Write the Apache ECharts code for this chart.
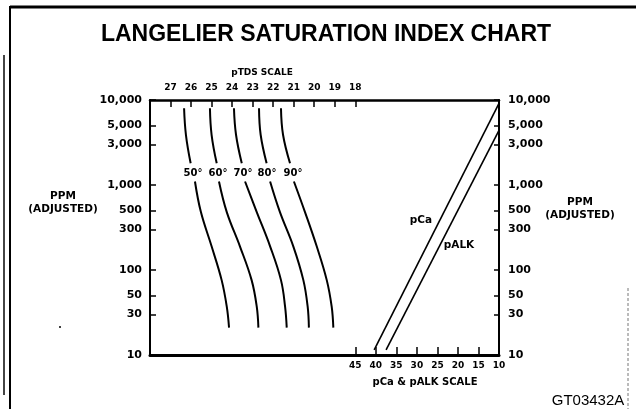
<!DOCTYPE html>
<html>
<head>
<meta charset="utf-8">
<title>Langelier Saturation Index Chart</title>
<script src="https://cdn.jsdelivr.net/npm/echarts@6/dist/echarts.min.js"></script>
<style>
  html, body { margin: 0; padding: 0; background: #fff; }
  #chart { width: 636px; height: 409px; }
</style>
</head>
<body>
<div id="chart"></div>
<script>
// Tick values for the three scales
const pTdsTicks = [18, 19, 20, 21, 22, 23, 24, 25, 26, 27];
const pScaleTicks = [10, 15, 20, 25, 30, 35, 40, 45];
const ppmTicks = [10, 30, 50, 100, 300, 500, 1000, 3000, 5000, 10000];

// Temperature curves: ppm levels and pTDS positions (upper and lower pieces)
const tempLabels = ['50°', '60°', '70°', '80°', '90°'];
const ppmUpper = [8000, 3900, 1800];
const ppmLower = [1100, 480, 190, 76, 37, 21];
const tds50Upper = [26.34, 26.25, 26.02];
const tds50Lower = [25.81, 25.52, 25.00, 24.51, 24.26, 24.15];
const tds60Upper = [25.08, 25.00, 24.75];
const tds60Lower = [24.64, 24.26, 23.62, 23.05, 22.80, 22.72];
const tds70Upper = [23.91, 23.81, 23.53];
const tds70Lower = [23.37, 22.80, 22.15, 21.62, 21.42, 21.34];
const tds80Upper = [22.69, 22.61, 22.32];
const tds80Lower = [22.15, 21.67, 21.02, 20.53, 20.32, 20.26];
const tds90Upper = [21.62, 21.52, 21.18];
const tds90Lower = [20.99, 20.45, 19.88, 19.39, 19.15, 19.07];

// pCa and pALK straight lines: [scale value, ppm]
const pCaLine = [[40.4, 11.5], [10, 9100]];
const pAlkLine = [[37.5, 11.5], [10, 4400]];

const upperSets = [tds50Upper, tds60Upper, tds70Upper, tds80Upper, tds90Upper];
const lowerSets = [tds50Lower, tds60Lower, tds70Lower, tds80Lower, tds90Lower];

const LBL = 'DejaVu Sans';
const fmtPpm = v => Number(v).toLocaleString('en-US');

const series = [];
upperSets.forEach((xs, i) => {
  series.push({
    name: tempLabels[i] + ' upper', type: 'line', xAxisIndex: 1, yAxisIndex: 0,
    data: xs.map((x, k) => [x, ppmUpper[k]]), smooth: 0.4, symbol: 'none',
    lineStyle: { color: '#000', width: 2 }, silent: true
  });
  series.push({
    name: tempLabels[i] + ' lower', type: 'line', xAxisIndex: 1, yAxisIndex: 0,
    data: lowerSets[i].map((x, k) => [x, ppmLower[k]]), smooth: 0.4, symbol: 'none',
    lineStyle: { color: '#000', width: 2 }, silent: true
  });
});
series.push({
  name: 'pCa', type: 'line', xAxisIndex: 0, yAxisIndex: 0, data: pCaLine,
  symbol: 'none', lineStyle: { color: '#000', width: 1.6 }, silent: true
});
series.push({
  name: 'pALK', type: 'line', xAxisIndex: 0, yAxisIndex: 0, data: pAlkLine,
  symbol: 'none', lineStyle: { color: '#000', width: 1.6 }, silent: true
});

const axisLine = { show: true, lineStyle: { color: '#000', width: 2 } };

const option = {
  animation: false,
  backgroundColor: '#fff',
  grid: { left: 150, right: 137, top: 100, bottom: 54, containLabel: false },
  xAxis: [
    {
      type: 'value', position: 'bottom', min: 10, max: 95, inverse: true,
      axisLine: { show: true, lineStyle: { color: '#000', width: 3 } },
      axisTick: { show: true, inside: true, length: 8, customValues: pScaleTicks,
                  lineStyle: { color: '#000', width: 1.5 } },
      axisLabel: { customValues: pScaleTicks, margin: 6, color: '#000',
                   fontFamily: LBL, fontWeight: 'bold', fontSize: 9 },
      splitLine: { show: false }
    },
    {
      type: 'value', position: 'top', min: 11, max: 28, inverse: true,
      axisLine: { show: true, lineStyle: { color: '#000', width: 2.5 } },
      axisTick: { show: true, inside: true, length: 7, customValues: pTdsTicks,
                  lineStyle: { color: '#000', width: 1.5 } },
      axisLabel: { customValues: pTdsTicks, margin: 8, color: '#000',
                   fontFamily: LBL, fontWeight: 'bold', fontSize: 9 },
      splitLine: { show: false }
    }
  ],
  yAxis: [
    {
      type: 'log', logBase: 10, min: 10, max: 10000, position: 'left',
      axisLine: axisLine,
      axisTick: { show: true, inside: true, length: 6, customValues: ppmTicks,
                  lineStyle: { color: '#000', width: 1.5 } },
      axisLabel: { customValues: ppmTicks, margin: 8, color: '#000', formatter: fmtPpm,
                   fontFamily: LBL, fontWeight: 'bold', fontSize: 11 },
      splitLine: { show: false }, minorTick: { show: false }
    },
    {
      type: 'log', logBase: 10, min: 10, max: 10000, position: 'right',
      axisLine: axisLine,
      axisTick: { show: true, inside: true, length: 5, customValues: ppmTicks,
                  lineStyle: { color: '#000', width: 1.5 } },
      axisLabel: { customValues: ppmTicks, margin: 9, color: '#000', formatter: fmtPpm,
                   fontFamily: LBL, fontWeight: 'bold', fontSize: 11 },
      splitLine: { show: false }, minorTick: { show: false }
    }
  ],
  series: series,
  graphic: [
    // outer frame
    { type: 'line', shape: { x1: 10, y1: 7, x2: 636, y2: 7 }, style: { stroke: '#000', lineWidth: 3 } },
    { type: 'line', shape: { x1: 10, y1: 6, x2: 10, y2: 409 }, style: { stroke: '#000', lineWidth: 2 } },
    { type: 'line', shape: { x1: 4, y1: 55, x2: 4, y2: 395 }, style: { stroke: '#444', lineWidth: 2 } },
    { type: 'line', shape: { x1: 628, y1: 288, x2: 628, y2: 409 }, style: { stroke: '#777', lineWidth: 1, lineDash: [3, 2] } },
    { type: 'circle', shape: { cx: 60, cy: 327, r: 1 }, style: { fill: '#000' } },
    // titles and scale names
    { type: 'text', x: 326, y: 35, style: { text: 'LANGELIER SATURATION INDEX CHART', fill: '#000',
      font: 'bold 23px "Liberation Sans", Arial, sans-serif', textAlign: 'center', textVerticalAlign: 'middle' } },
    { type: 'text', x: 262, y: 73, style: { text: 'pTDS SCALE', fill: '#000',
      font: 'bold 9px "DejaVu Sans"', textAlign: 'center', textVerticalAlign: 'middle' } },
    { type: 'text', x: 425, y: 382, style: { text: 'pCa & pALK SCALE', fill: '#000',
      font: 'bold 10px "DejaVu Sans"', textAlign: 'center', textVerticalAlign: 'middle' } },
    { type: 'text', x: 63, y: 203, style: { text: 'PPM\n(ADJUSTED)', fill: '#000', lineHeight: 13,
      font: 'bold 10.5px "DejaVu Sans"', textAlign: 'center', textVerticalAlign: 'middle' } },
    { type: 'text', x: 580, y: 209, style: { text: 'PPM\n(ADJUSTED)', fill: '#000', lineHeight: 13,
      font: 'bold 10.5px "DejaVu Sans"', textAlign: 'center', textVerticalAlign: 'middle' } },
    // curve labels
    { type: 'text', x: 193, y: 173, style: { text: tempLabels[0], fill: '#000', font: 'bold 10px "DejaVu Sans"', textAlign: 'center', textVerticalAlign: 'middle' } },
    { type: 'text', x: 218, y: 173, style: { text: tempLabels[1], fill: '#000', font: 'bold 10px "DejaVu Sans"', textAlign: 'center', textVerticalAlign: 'middle' } },
    { type: 'text', x: 243, y: 173, style: { text: tempLabels[2], fill: '#000', font: 'bold 10px "DejaVu Sans"', textAlign: 'center', textVerticalAlign: 'middle' } },
    { type: 'text', x: 267, y: 173, style: { text: tempLabels[3], fill: '#000', font: 'bold 10px "DejaVu Sans"', textAlign: 'center', textVerticalAlign: 'middle' } },
    { type: 'text', x: 293, y: 173, style: { text: tempLabels[4], fill: '#000', font: 'bold 10px "DejaVu Sans"', textAlign: 'center', textVerticalAlign: 'middle' } },
    { type: 'text', x: 421, y: 220, style: { text: 'pCa', fill: '#000', font: 'bold 10.5px "DejaVu Sans"', textAlign: 'center', textVerticalAlign: 'middle' } },
    { type: 'text', x: 459, y: 245, style: { text: 'pALK', fill: '#000', font: 'bold 10.5px "DejaVu Sans"', textAlign: 'center', textVerticalAlign: 'middle' } },
    { type: 'text', x: 588, y: 401, style: { text: 'GT03432A', fill: '#000', font: '15px "Liberation Sans", Arial, sans-serif', textAlign: 'center', textVerticalAlign: 'middle' } }
  ]
};

const chart = echarts.init(document.getElementById('chart'), null, { renderer: 'canvas' });
chart.setOption(option);
</script>
</body>
</html>
